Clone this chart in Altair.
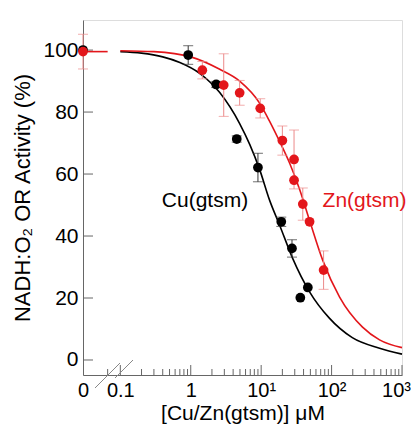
import math
import altair as alt
import pandas as pd

# ---------------- data ----------------
cu_conc = [0, 0.92, 2.3, 4.5, 9.0, 19.3, 27.4, 36.0, 46.0]
cu_act = [100, 98.4, 88.9, 71.3, 62.1, 44.6, 36.0, 20.1, 23.4]
cu_err = [0, 3.0, 1.0, 1.0, 4.6, 1.5, 2.8, 0, 0]

zn_conc = [0, 1.46, 2.94, 4.95, 9.7, 20.0, 29.3, 29.3, 39.0, 48.7, 77.0]
zn_act = [99.5, 93.5, 88.7, 86.2, 81.2, 70.8, 64.7, 58.0, 50.3, 44.6, 29.0]
zn_err = [5.6, 2.8, 10.1, 4.0, 3.1, 4.7, 9.5, 0, 5.2, 0, 6.2]

cu_fit_conc = [0.1, 0.2, 0.4, 0.7, 1.34, 2.58, 4.95, 6.9, 9.5, 13.2, 18.3, 28, 48.7, 93, 197, 480, 1000]
cu_fit_act = [99.5, 99.0, 97.8, 96.0, 92.5, 86.3, 76.3, 69.5, 61.5, 51.5, 43.5, 32.8, 22.0, 13.5, 7.2, 3.8, 1.9]
zn_fit_conc = [0.1, 0.3, 1.0, 2.58, 4.95, 9.5, 13.2, 18.3, 25.4, 35.2, 48.7, 74.5, 130, 275, 480, 1000]
zn_fit_act = [99.8, 99.5, 97.8, 93.8, 90.0, 82.9, 77.0, 70.5, 63.5, 55.0, 45.0, 32.3, 20.3, 10.6, 6.5, 4.0]

x_tick_values = [0, 0.1, 1, 10, 100, 1000]
x_tick_labels = ["0", "0.1", "1", "10\u00b9", "10\u00b2", "10\u00b3"]
y_tick_values = [0, 20, 40, 60, 80, 100]

series_labels = ["Cu(gtsm)", "Zn(gtsm)"]
label_conc = [0.388, 74.5]
label_act = [49.4, 49.4]

ZERO_SLOT = -1.53   # log10 position used for concentration 0 (left of the axis break)
BREAK_END = -1.18   # end of the segment left of the break

BLACK = "#000000"
RED = "#e3161b"
RED_ERR = "#ec8a8a"
AXIS_GRAY = "#666666"
FONT = "Liberation Sans"


def xpos(c):
    return math.log10(c) if c > 0 else ZERO_SLOT


def pts(conc, act, err):
    return pd.DataFrame({
        "x": [xpos(c) for c in conc],
        "y": act,
        "lo": [a - e for a, e in zip(act, err)],
        "hi": [a + e for a, e in zip(act, err)],
        "e": err,
    })


cu_df = pts(cu_conc, cu_act, cu_err)
zn_df = pts(zn_conc, zn_act, zn_err)
cu_err_df = cu_df[cu_df["e"] > 0]
zn_err_df = zn_df[zn_df["e"] > 0]

cu_fit = pd.DataFrame({"x": [xpos(c) for c in cu_fit_conc], "y": cu_fit_act})
zn_fit = pd.DataFrame({"x": [xpos(c) for c in zn_fit_conc], "y": zn_fit_act})
zn_zero_seg = pd.DataFrame({"x": [ZERO_SLOT, BREAK_END], "y": [zn_act[0], zn_act[0]]})

tick_pos = [xpos(v) for v in x_tick_values]
label_expr = ""
for i, (p, lab) in enumerate(zip(tick_pos, x_tick_labels)):
    if i < len(tick_pos) - 1:
        label_expr += f"datum.value < {(p + tick_pos[i + 1]) / 2:.4f} ? '{lab}' : "
    else:
        label_expr += f"'{lab}'"

major_df = pd.DataFrame({"x": [xpos(v) for v in x_tick_values[1:]]})
minor_vals = [k * 10 ** d for d in range(-1, 3) for k in range(2, 10)]
minor_df = pd.DataFrame({"x": [xpos(v) for v in minor_vals] + [BREAK_END]})
ytick_df = pd.DataFrame({"y": y_tick_values})
text_df = pd.DataFrame({"x": [xpos(c) for c in label_conc], "y": label_act,
                        "t": series_labels, "s": ["Cu", "Zn"]})
one = pd.DataFrame({"a": [0]})

xscale = alt.Scale(domain=[ZERO_SLOT, 3.0], nice=False, zero=False)
yscale = alt.Scale(domain=[-4.84, 109.7], nice=False, zero=False)

X = alt.X("x:Q", scale=xscale, axis=alt.Axis(
    values=tick_pos, labelExpr=label_expr, ticks=False, grid=False,
    domainColor=AXIS_GRAY, labelFont=FONT, labelFontSize=20, labelColor="black",
    labelPadding=5, labelFlush=False, labelOverlap=False,
    labelOffset={"condition": {"test": "datum.value > 2.5", "value": -6}, "value": 0},
    title="[Cu/Zn(gtsm)] \u03bcM", titleFont=FONT, titleFontSize=21,
    titleFontWeight="normal", titleColor="black",
    titleBaseline="alphabetic", titleY=44))
Y = alt.Y("y:Q", scale=yscale, axis=alt.Axis(
    values=y_tick_values, ticks=False, grid=False, domainColor=AXIS_GRAY,
    labelFont=FONT, labelFontSize=21, labelColor="black", labelPadding=5,
    title="NADH:O\u2082 OR Activity (%)", titleFont=FONT, titleFontSize=22,
    titleFontWeight="normal", titleColor="black", titlePadding=8))

layers = []
# inward axis ticks
layers.append(alt.Chart(ytick_df).mark_rule(color=AXIS_GRAY, strokeWidth=1).encode(
    y=Y, x=alt.value(0), x2=alt.value(10)))
layers.append(alt.Chart(major_df).mark_rule(color=AXIS_GRAY, strokeWidth=1).encode(
    x=X, y=alt.value(355), y2=alt.value(345)))
layers.append(alt.Chart(minor_df).mark_rule(color=AXIS_GRAY, strokeWidth=1).encode(
    x=X, y=alt.value(355), y2=alt.value(349)))
# axis-break slashes
layers.append(alt.Chart(one).mark_rule(color="#888888", strokeWidth=1).encode(
    x=alt.value(12), x2=alt.value(37), y=alt.value(368), y2=alt.value(343)))
layers.append(alt.Chart(one).mark_rule(color="#888888", strokeWidth=1).encode(
    x=alt.value(32), x2=alt.value(50), y=alt.value(358), y2=alt.value(340)))
# fitted curves
layers.append(alt.Chart(cu_fit).mark_line(color=BLACK, strokeWidth=1.6, interpolate="monotone").encode(x=X, y=Y))
layers.append(alt.Chart(zn_fit).mark_line(color=RED, strokeWidth=1.6, interpolate="monotone").encode(x=X, y=Y))
layers.append(alt.Chart(zn_zero_seg).mark_line(color=RED, strokeWidth=1.6).encode(x=X, y=Y))
# error bars
for df, col in [(cu_err_df, "#333333"), (zn_err_df, RED_ERR)]:
    layers.append(alt.Chart(df).mark_rule(color=col, strokeWidth=1).encode(
        x=X, y=alt.Y("lo:Q", scale=yscale), y2="hi:Q"))
    layers.append(alt.Chart(df).mark_tick(color=col, orient="horizontal", size=10, thickness=1).encode(
        x=X, y=alt.Y("lo:Q", scale=yscale)))
    layers.append(alt.Chart(df).mark_tick(color=col, orient="horizontal", size=10, thickness=1).encode(
        x=X, y=alt.Y("hi:Q", scale=yscale)))
# points
layers.append(alt.Chart(cu_df).mark_circle(color=BLACK, size=95, opacity=1).encode(x=X, y=Y))
layers.append(alt.Chart(zn_df).mark_circle(color=RED, size=95, opacity=1).encode(x=X, y=Y))
# series labels
layers.append(alt.Chart(text_df).mark_text(align="left", baseline="alphabetic", font=FONT, fontSize=21).encode(
    x=X, y=Y, text="t:N",
    color=alt.Color("s:N", scale=alt.Scale(domain=["Cu", "Zn"], range=[BLACK, RED]), legend=None)))

chart = alt.layer(*layers).properties(
    width=319, height=355,
    autosize=alt.AutoSizeParams(type="none"),
    padding={"left": 75, "top": 12, "right": 9, "bottom": 50},
).configure_view(stroke=None).configure(background="white")

chart.save("out.html", embed_options={"renderer": "svg", "actions": False})
